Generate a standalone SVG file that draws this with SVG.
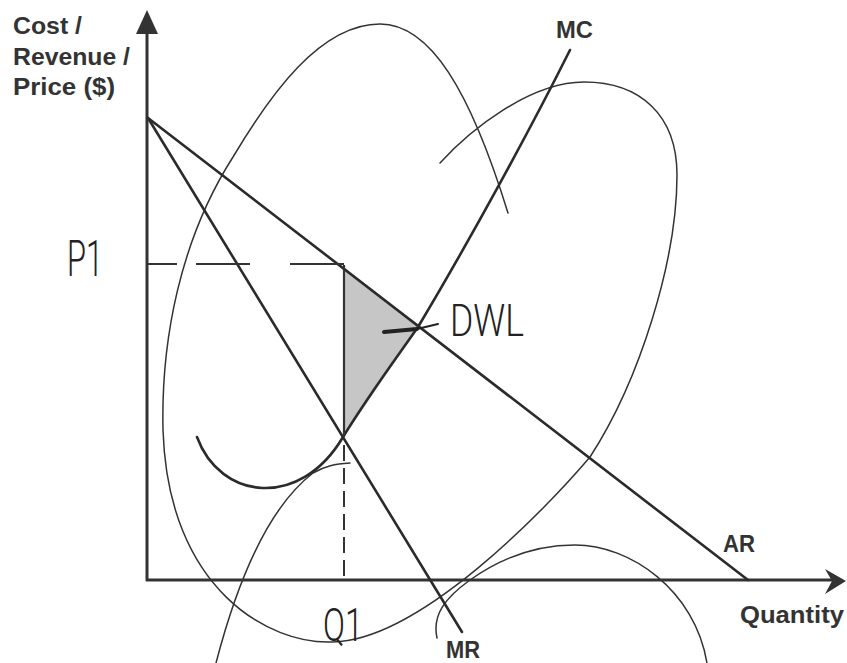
<svg xmlns="http://www.w3.org/2000/svg" width="847" height="663" viewBox="0 0 847 663">
<style>
.lbl{font-family:"Liberation Sans",Arial,sans-serif;font-weight:bold;font-size:23px;fill:#333}
.hand{font-family:Roboto,"Noto Sans",sans-serif;font-weight:300;fill:#222}
.ln{fill:none;stroke:#2b2b2b;stroke-width:2.6;stroke-linecap:round}
.sc{fill:none;stroke:#333;stroke-width:1.5;stroke-linecap:round}
.ax{fill:none;stroke:#333;stroke-width:3}
</style>
<rect width="847" height="663" fill="#fff"/>
<g id="dwl-area">
<polygon points="344,267 418,327 344,437" fill="#c6c6c6"/>
</g>
<g id="scribbles">
<path class="sc" d="M440,163 C470,130 530,82 584,82 C640,82 677,115 677,175 C677,260 640,380 590,457 C545,510 420,640 333,642 C270,645 168,590 163,430 C161,340 180,240 233,157 C270,95 320,24 380,24 C430,24 470,90 508,213"/>
<path class="sc" d="M437,638 C432,615 445,598 470,580 C505,555 540,545 575,545 C630,545 695,590 707,663"/>
<path class="sc" d="M216,663 C235,590 265,510 313,473 C325,466 335,464 350,463"/>
</g>
<g id="axes">
<path class="ax" d="M147,581 V28"/>
<polygon points="147,10 136,34 158,34" fill="#333"/>
<path class="ax" d="M146,580 H832"/>
<polygon points="846,581 825,569 832,581 825,594" fill="#333"/>
</g>
<g id="connectors">
<path id="AR" class="ln" d="M148,118 L748,580"/>
<path id="MR" class="ln" d="M148,118 L462,632"/>
<path id="MC" class="ln" d="M197,437 C220,500 300,510 343,437 C370,393 395,360 418,327 C470,240 530,130 570,50"/>
<path id="p1-line" fill="none" stroke="#333" stroke-width="2" d="M148,264 H177 M196,264 H250 M290,264 H344"/>
<path id="q1-line-top" fill="none" stroke="#333" stroke-width="2.2" d="M344,265 V437"/>
<path id="q1-line" fill="none" stroke="#333" stroke-width="2" stroke-dasharray="16 7" d="M344,445 V580"/>
<path id="dwl-pointer" fill="none" stroke="#222" stroke-width="4" stroke-linecap="round" d="M384,332 L417,329"/>
<path fill="none" stroke="#222" stroke-width="2" stroke-linecap="round" d="M417,329 L438,324"/>
</g>
<g id="labels">
<text class="lbl" x="13" y="34" textLength="69" lengthAdjust="spacingAndGlyphs">Cost /</text>
<text class="lbl" x="13" y="65" textLength="117" lengthAdjust="spacingAndGlyphs">Revenue /</text>
<text class="lbl" x="13" y="95" textLength="102" lengthAdjust="spacingAndGlyphs">Price ($)</text>
<text class="lbl" x="556" y="38" textLength="37" lengthAdjust="spacingAndGlyphs">MC</text>
<text class="lbl" x="723" y="552" textLength="32" lengthAdjust="spacingAndGlyphs">AR</text>
<text class="lbl" x="740" y="623" textLength="104" lengthAdjust="spacingAndGlyphs">Quantity</text>
<text class="lbl" x="446" y="658" textLength="34" lengthAdjust="spacingAndGlyphs">MR</text>
</g>
<g id="handwritten">
<text class="hand" x="67" y="276" font-size="50" textLength="36" lengthAdjust="spacingAndGlyphs">P1</text>
<text class="hand" x="450" y="336" font-size="44" textLength="74" lengthAdjust="spacingAndGlyphs">DWL</text>
<text class="hand" x="323" y="641" font-size="46" textLength="40" lengthAdjust="spacingAndGlyphs">Q1</text>
</g>
</svg>
